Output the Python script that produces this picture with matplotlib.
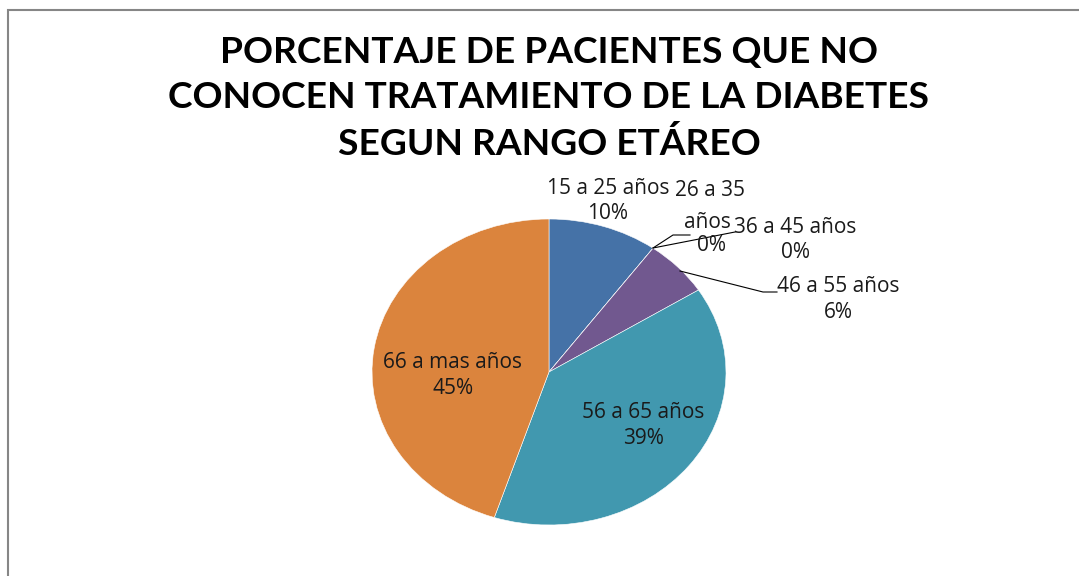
import matplotlib
matplotlib.use("Agg")
import matplotlib.pyplot as plt
from matplotlib.patches import Rectangle
from matplotlib.lines import Line2D
from matplotlib import font_manager

categories = ["15 a 25 años", "26 a 35 años", "36 a 45 años", "46 a 55 años", "56 a 65 años", "66 a mas años"]
values = [10, 0, 0, 6, 39, 45]
pct_labels = ["10%", "0%", "0%", "6%", "39%", "45%"]
colors = ["#4572A7", "#AA4643", "#89A54E", "#71588F", "#4198AF", "#DB843D"]
title = "PORCENTAJE DE PACIENTES QUE NO\nCONOCEN TRATAMIENTO DE LA DIABETES\nSEGUN RANGO ETÁREO"

names = {f.name for f in font_manager.fontManager.ttflist}
title_family = "Liberation Sans Narrow" if "Liberation Sans Narrow" in names else "Lato"
title_size = 29 if title_family == "Liberation Sans Narrow" else 26.7

W, H = 1079, 576
fig = plt.figure(figsize=(W / 100, H / 100), dpi=100)

def fx(x):
    return x / W

def fy(y):
    return 1 - y / H

# frame
fig.patches.append(Rectangle((fx(8), -0.05), 1.1, fy(10) + 0.05, transform=fig.transFigure,
                             fill=False, edgecolor="#868686", lw=1.5))

# pie (elliptical, as in reference)
cx, cy, rx, ry = 549, 372, 177, 153
ax = fig.add_axes([fx(cx - rx), fy(cy + ry), 2 * rx / W, 2 * ry / H])
ax.pie(values, colors=colors, startangle=90, counterclock=False, radius=1,
       wedgeprops=dict(edgecolor="white", linewidth=0.4))
ax.set_aspect("auto")
ax.set_xlim(-1, 1)
ax.set_ylim(-1, 1)
ax.axis("off")

for k, line in enumerate(title.split("\n")):
    fig.text(fx(549), fy(52 + 46 * k), line, ha="center", va="center", fontsize=title_size,
             fontweight="bold", family=title_family, color="black")

lab_font = dict(family="Open Sans", fontsize=15, color="#1a1a1a", ha="center", va="center")

def two_line(x, y1, y2, a, b):
    fig.text(fx(x), fy(y1), a, **lab_font)
    fig.text(fx(x), fy(y2), b, **lab_font)

two_line(608, 188, 213, categories[0], pct_labels[0])
fig.text(fx(710), fy(191), "26 a 35", **lab_font)
fig.text(fx(707), fy(223), "años", **lab_font)
fig.text(fx(712), fy(246), pct_labels[1], **lab_font)
two_line(795, 228, 252, categories[2], pct_labels[2])
two_line(838, 287, 312, categories[3], pct_labels[3])
two_line(643, 413, 438, categories[4], pct_labels[4])
two_line(453, 362, 388, categories[5], pct_labels[5])

# leader lines
for xs, ys in [((653, 673, 690), (248, 235, 235)),
               ((653, 735), (248, 232)),
               ((680, 763, 777), (271, 292, 292))]:
    fig.add_artist(Line2D([fx(x) for x in xs], [fy(y) for y in ys], transform=fig.transFigure,
                          color="black", lw=0.8))

fig.savefig("out.png", dpi=100)
